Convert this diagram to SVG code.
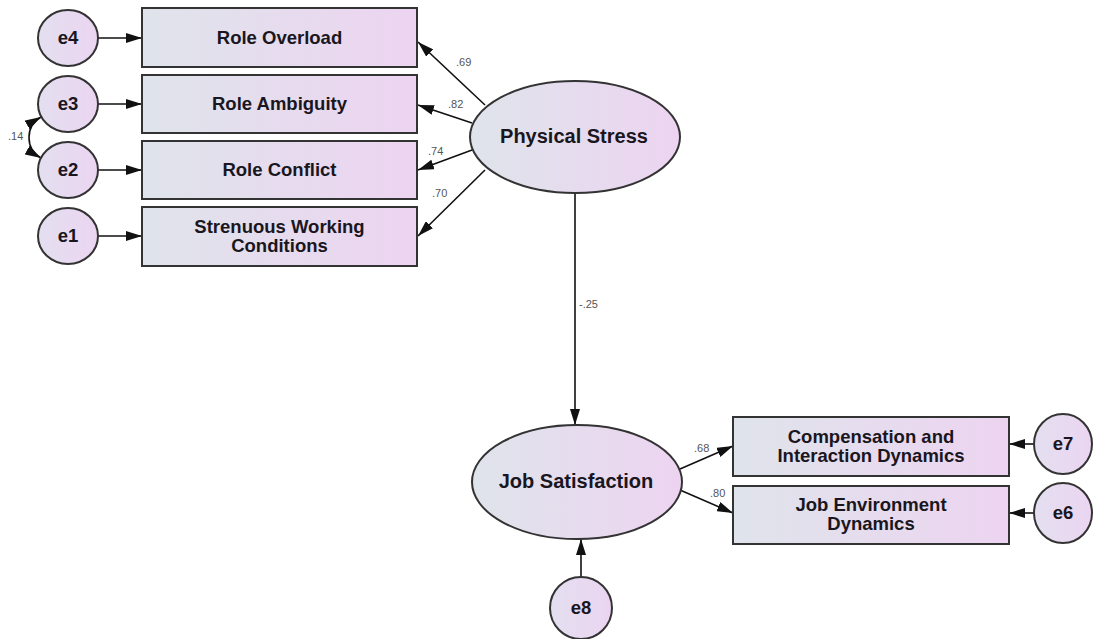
<svg xmlns="http://www.w3.org/2000/svg" width="1093" height="639" viewBox="0 0 1093 639">
  <defs>
    <linearGradient id="fillGrad" x1="0" y1="0" x2="1" y2="0">
      <stop offset="0" stop-color="#dfe4eb"/>
      <stop offset="1" stop-color="#edd4f1"/>
    </linearGradient>
    <linearGradient id="errGrad" x1="0" y1="0" x2="1" y2="0">
      <stop offset="0" stop-color="#e4dff0"/>
      <stop offset="1" stop-color="#ebd5f1"/>
    </linearGradient>
    <marker id="ah" viewBox="0 0 16 10" refX="16" refY="5" markerWidth="16" markerHeight="10" orient="auto-start-reverse" markerUnits="userSpaceOnUse">
      <path d="M0,0 L16,5 L0,10 z" fill="#111"/>
    </marker>
  </defs>
  <style>
    .box { fill: url(#fillGrad); stroke: #333; stroke-width: 2; }
    .lat { fill: url(#fillGrad); stroke: #333; stroke-width: 2; }
    .err { fill: url(#errGrad); stroke: #333; stroke-width: 2; }
    .lbl { font-family: "Liberation Sans", Arial, sans-serif; font-weight: bold; font-size: 18.5px; fill: #1a1620; text-anchor: middle; }
    .big { font-size: 20px; }
    .coef { font-family: "Liberation Sans", Arial, sans-serif; font-size: 11px; fill: #555555; }
    .arr { stroke: #111; stroke-width: 1.6; fill: none; marker-end: url(#ah); }
  </style>
  <rect width="1093" height="639" fill="#ffffff"/>

  <!-- connectors -->
  <g id="connectors">
    <line class="arr" x1="98" y1="38" x2="142" y2="38"/>
    <line class="arr" x1="98" y1="104" x2="142" y2="104"/>
    <line class="arr" x1="98" y1="170" x2="142" y2="170"/>
    <line class="arr" x1="98" y1="236" x2="142" y2="236"/>
    <path class="arr" d="M41,117 C25,126 25,149 41,158" marker-start="url(#ah)"/>
    <line class="arr" x1="485" y1="105" x2="418" y2="42"/>
    <line class="arr" x1="472" y1="123" x2="418" y2="105"/>
    <line class="arr" x1="472" y1="150" x2="418" y2="170"/>
    <line class="arr" x1="485" y1="170" x2="418" y2="236"/>
    <line class="arr" x1="575" y1="193" x2="575" y2="425"/>
    <line class="arr" x1="680" y1="469" x2="733" y2="446"/>
    <line class="arr" x1="680" y1="490" x2="733" y2="513"/>
    <line class="arr" x1="1034" y1="444" x2="1009" y2="444"/>
    <line class="arr" x1="1034" y1="513" x2="1009" y2="513"/>
    <line class="arr" x1="581" y1="577" x2="581" y2="539"/>
    <text class="coef" x="456" y="66">.69</text>
    <text class="coef" x="448" y="108">.82</text>
    <text class="coef" x="428" y="155">.74</text>
    <text class="coef" x="432" y="197">.70</text>
    <text class="coef" x="8" y="140">.14</text>
    <text class="coef" x="579" y="308">-.25</text>
    <text class="coef" x="694" y="452">.68</text>
    <text class="coef" x="710" y="497">.80</text>
  </g>

  <!-- error terms -->
  <g id="e4"><ellipse class="err" cx="68" cy="38" rx="30" ry="28"/><text class="lbl" x="68" y="44">e4</text></g>
  <g id="e3"><ellipse class="err" cx="68" cy="104" rx="30" ry="28"/><text class="lbl" x="68" y="110">e3</text></g>
  <g id="e2"><ellipse class="err" cx="68" cy="170" rx="30" ry="28"/><text class="lbl" x="68" y="176">e2</text></g>
  <g id="e1"><ellipse class="err" cx="68" cy="236" rx="30" ry="28"/><text class="lbl" x="68" y="242">e1</text></g>
  <g id="e7"><ellipse class="err" cx="1063" cy="444" rx="29" ry="30"/><text class="lbl" x="1063" y="450">e7</text></g>
  <g id="e6"><ellipse class="err" cx="1063" cy="513" rx="29" ry="30"/><text class="lbl" x="1063" y="519">e6</text></g>
  <g id="e8"><ellipse class="err" cx="581" cy="608" rx="31" ry="31"/><text class="lbl" x="581" y="614">e8</text></g>

  <!-- observed indicators -->
  <g id="role-overload"><rect class="box" x="142" y="8" width="275" height="59"/><text class="lbl" x="279.5" y="44">Role Overload</text></g>
  <g id="role-ambiguity"><rect class="box" x="142" y="75" width="275" height="58"/><text class="lbl" x="279.5" y="110">Role Ambiguity</text></g>
  <g id="role-conflict"><rect class="box" x="142" y="141" width="275" height="58"/><text class="lbl" x="279.5" y="176">Role Conflict</text></g>
  <g id="strenuous"><rect class="box" x="142" y="207" width="275" height="59"/>
    <text class="lbl" x="279.5" y="233">Strenuous Working</text>
    <text class="lbl" x="279.5" y="252">Conditions</text></g>
  <g id="compensation"><rect class="box" x="733" y="417" width="276" height="59"/>
    <text class="lbl" x="871" y="443">Compensation and</text>
    <text class="lbl" x="871" y="462">Interaction Dynamics</text></g>
  <g id="job-environment"><rect class="box" x="733" y="486" width="276" height="58"/>
    <text class="lbl" x="871" y="511">Job Environment</text>
    <text class="lbl" x="871" y="530">Dynamics</text></g>

  <!-- latent constructs -->
  <g id="physical-stress"><ellipse class="lat" cx="575" cy="137" rx="105" ry="56"/><text class="lbl big" x="574" y="143">Physical Stress</text></g>
  <g id="job-satisfaction"><ellipse class="lat" cx="577" cy="482" rx="105" ry="57"/><text class="lbl big" x="576" y="488">Job Satisfaction</text></g>
</svg>
